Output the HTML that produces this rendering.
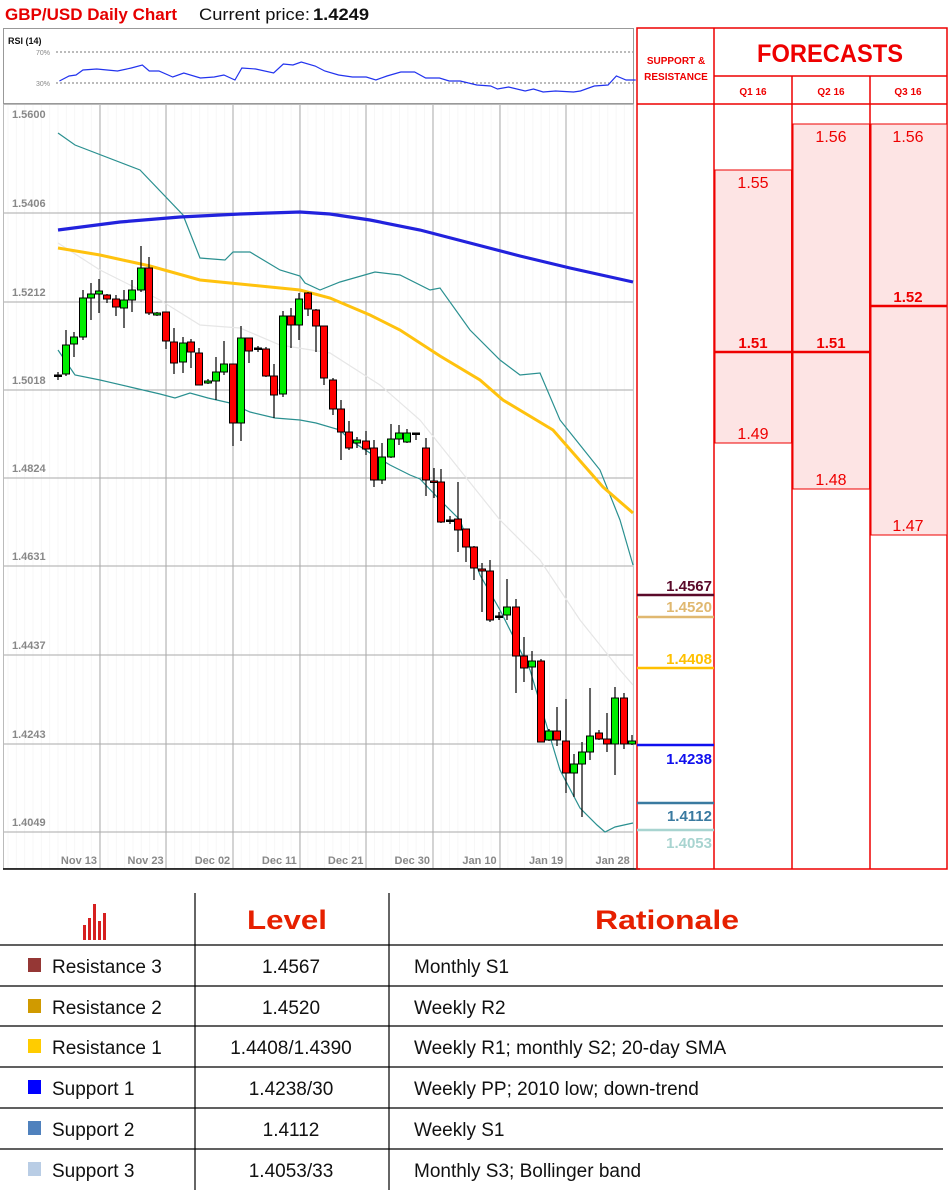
<!DOCTYPE html>
<html><head><meta charset="utf-8">
<style>
html,body{margin:0;padding:0;background:#fff;}
body{width:952px;height:1193px;position:relative;overflow:hidden;font-family:"Liberation Sans",sans-serif;}
svg{position:absolute;left:0;top:0;}
</style></head>
<body>
<svg id="s" width="952" height="1193" viewBox="0 0 952 1193" xmlns="http://www.w3.org/2000/svg" font-family="Liberation Sans, sans-serif">
<text x="5" y="20" font-size="17" font-weight="bold" fill="#e60000" textLength="172" lengthAdjust="spacingAndGlyphs">GBP/USD Daily Chart</text>
<text x="199" y="20" font-size="17" fill="#111" textLength="111" lengthAdjust="spacingAndGlyphs">Current price:</text>
<text x="313" y="20" font-size="17" font-weight="bold" fill="#111" textLength="56" lengthAdjust="spacingAndGlyphs">1.4249</text>
<rect x="3.5" y="28.5" width="630" height="75" fill="#fff" stroke="#999"/>
<text x="8" y="44" font-size="9" fill="#111" font-weight="bold">RSI (14)</text>
<text x="36" y="55" font-size="7" fill="#888">70%</text>
<text x="36" y="86" font-size="7" fill="#888">30%</text>
<line x1="56" y1="52" x2="633" y2="52" stroke="#777" stroke-dasharray="2,2"/>
<line x1="56" y1="83" x2="633" y2="83" stroke="#777" stroke-dasharray="2,2"/>
<g transform="scale(1.382,1)">
<polyline fill="none" stroke="#2233ee" stroke-width="1.2" vector-effect="non-scaling-stroke" points="43,81 50,76 55,75 60,70 70,69 85,71 95,68 103,65 108,71 115,71 125,77 133,73 145,78 155,77 162,75 170,80 175,68 185,69 198,73 205,64 212,65 218,62 228,66 235,71 245,75 255,77 265,77 272,80 280,76 290,72 300,72 308,78 318,78 325,81 333,81 345,85 355,86 360,89 368,87 380,91 386,89 393,92 402,91 415,92 420,91 430,86 440,85 446,76 453,80 460,80"/>
</g>
<rect x="3.5" y="104.5" width="630" height="764" fill="#fff" stroke="#bbb"/>
<g id="minor" stroke="#f7f7f7" stroke-width="1"></g>
<g stroke="#aaa" stroke-width="1" id="grid"></g>
<g font-size="11" font-weight="bold" fill="#888" id="ylab"></g>
<g font-size="11" font-weight="bold" fill="#888" text-anchor="end" id="xlab"></g>
<line x1="3" y1="869" x2="640" y2="869" stroke="#000" stroke-width="1.5"/>
<polyline fill="none" stroke="#e6e6e6" stroke-width="1.2" points="58,243 100,270 160,300 200,325 240,328 280,345 330,353 380,385 420,420 460,470 500,520 540,560 580,620 620,670 633,685"/>
<polyline fill="none" stroke="#2a9090" stroke-width="1.2" points="58,133 75,145 140,170 183,215 200,258 225,260 233,252 250,252 280,270 300,276 305,283 320,290 340,282 375,272 400,275 430,290 440,288 470,330 500,360 520,375 540,373 560,420 580,445 600,470 620,520 633,565"/>
<polyline fill="none" stroke="#2a9090" stroke-width="1.2" points="58,350 75,375 100,380 130,387 160,394 175,398 190,393 208,398 230,403 250,412 275,418 300,420 316,423 340,430 350,440 370,453 390,465 410,475 420,479 440,500 460,520 480,575 500,610 515,640 530,670 545,720 560,770 580,808 597,825 605,832 615,827 633,823"/>
<polyline fill="none" stroke="#ffc20e" stroke-width="3" points="58,248 100,255 150,266 200,280 240,284 300,290 330,298 370,315 400,330 440,356 480,380 503,400 553,430 603,487 633,513"/>
<polyline fill="none" stroke="#2222dd" stroke-width="3.2" points="58,230 120,222 180,217 240,214 300,212 330,214 370,220 420,230 470,243 520,256 570,268 633,282"/>
<g id="candles"></g>
<g stroke="#e00" stroke-width="1.5" fill="none">
<rect x="637" y="28" width="310" height="841"/>
<line x1="714" y1="28" x2="714" y2="869"/>
<line x1="792" y1="76" x2="792" y2="869"/>
<line x1="870" y1="76" x2="870" y2="869"/>
<line x1="714" y1="76" x2="947" y2="76"/>
<line x1="637" y1="104" x2="947" y2="104"/>
</g>
<rect x="715" y="170" width="76.5" height="273" fill="#fde4e4" stroke="#e00" stroke-width="1"/>
<rect x="793" y="124" width="76.5" height="365" fill="#fde4e4" stroke="#e00" stroke-width="1"/>
<rect x="871" y="124" width="76" height="411" fill="#fde4e4" stroke="#e00" stroke-width="1"/>
<line x1="714" y1="352" x2="870" y2="352" stroke="#e00" stroke-width="2.5"/>
<line x1="870" y1="306" x2="947" y2="306" stroke="#e00" stroke-width="2.5"/>
<g fill="#e00" font-weight="bold" text-anchor="middle">
<text x="676" y="64" font-size="10">SUPPORT &amp;</text>
<text x="676" y="80" font-size="10">RESISTANCE</text>
<text x="830" y="62" font-size="25" textLength="146" lengthAdjust="spacingAndGlyphs">FORECASTS</text>
<text x="753" y="95" font-size="10">Q1 16</text>
<text x="831" y="95" font-size="10">Q2 16</text>
<text x="908" y="95" font-size="10">Q3 16</text>
<text x="753" y="348" font-size="15">1.51</text>
<text x="831" y="348" font-size="15">1.51</text>
<text x="908" y="302" font-size="15">1.52</text>
</g>
<g fill="#e00" font-size="16" text-anchor="middle">
<text x="753" y="188">1.55</text>
<text x="831" y="142">1.56</text>
<text x="908" y="142">1.56</text>
<text x="753" y="439">1.49</text>
<text x="831" y="485">1.48</text>
<text x="908" y="531">1.47</text>
</g>
<g font-size="15" font-weight="bold" text-anchor="end">
<line x1="637" y1="595" x2="714" y2="595" stroke="#5a0a2a" stroke-width="2.5"/><text x="712" y="591" fill="#5a0a2a">1.4567</text>
<line x1="637" y1="617" x2="714" y2="617" stroke="#e0b870" stroke-width="2.5"/><text x="712" y="612" fill="#e0b870">1.4520</text>
<line x1="637" y1="668" x2="714" y2="668" stroke="#ffc000" stroke-width="2.5"/><text x="712" y="664" fill="#ffc000">1.4408</text>
<line x1="637" y1="745" x2="714" y2="745" stroke="#1010ee" stroke-width="2.5"/><text x="712" y="764" fill="#1010ee">1.4238</text>
<line x1="637" y1="803" x2="714" y2="803" stroke="#3a7aa0" stroke-width="2.5"/><text x="712" y="821" fill="#3a7aa0">1.4112</text>
<line x1="637" y1="830" x2="714" y2="830" stroke="#a8d4d0" stroke-width="2.5"/><text x="712" y="848" fill="#a8d4d0">1.4053</text>
</g>
<g stroke="#000" stroke-width="1.2">
<line x1="195" y1="893" x2="195" y2="1190"/>
<line x1="389" y1="893" x2="389" y2="1190"/>
<line x1="0" y1="945" x2="943" y2="945"/>
<line x1="0" y1="986" x2="943" y2="986"/>
<line x1="0" y1="1026" x2="943" y2="1026"/>
<line x1="0" y1="1067" x2="943" y2="1067"/>
<line x1="0" y1="1108" x2="943" y2="1108"/>
<line x1="0" y1="1149" x2="943" y2="1149"/>
</g>
<g fill="#d62020">
<rect x="83" y="925" width="3" height="15"/><rect x="88" y="918" width="3" height="22"/><rect x="93" y="904" width="3" height="36"/><rect x="98" y="921" width="3" height="19"/><rect x="103" y="913" width="3" height="27"/>
</g>
<g fill="#e62000" font-weight="bold" font-size="27" text-anchor="middle">
<text x="287" y="929" textLength="80" lengthAdjust="spacingAndGlyphs">Level</text>
<text x="667" y="929" textLength="144" lengthAdjust="spacingAndGlyphs">Rationale</text>
</g>
<g font-size="19" fill="#111">
<rect x="28" y="958" width="13" height="14" fill="#953735"/><text x="52" y="973">Resistance 3</text>
<rect x="28" y="999" width="13" height="14" fill="#d09a00"/><text x="52" y="1014">Resistance 2</text>
<rect x="28" y="1039" width="13" height="14" fill="#ffcc00"/><text x="52" y="1054">Resistance 1</text>
<rect x="28" y="1080" width="13" height="14" fill="#0000ff"/><text x="52" y="1095">Support 1</text>
<rect x="28" y="1121" width="13" height="14" fill="#4f81bd"/><text x="52" y="1136">Support 2</text>
<rect x="28" y="1162" width="13" height="14" fill="#b9cde5"/><text x="52" y="1177">Support 3</text>
<g text-anchor="middle">
<text x="291" y="973">1.4567</text>
<text x="291" y="1014">1.4520</text>
<text x="291" y="1054">1.4408/1.4390</text>
<text x="291" y="1095">1.4238/30</text>
<text x="291" y="1136">1.4112</text>
<text x="291" y="1177">1.4053/33</text>
</g>
<text x="414" y="973">Monthly S1</text>
<text x="414" y="1014">Weekly R2</text>
<text x="414" y="1054">Weekly R1; monthly S2; 20-day SMA</text>
<text x="414" y="1095">Weekly PP; 2010 low; down-trend</text>
<text x="414" y="1136">Weekly S1</text>
<text x="414" y="1177">Monthly S3; Bollinger band</text>
</g>
</svg>
<script>
var NS="http://www.w3.org/2000/svg";
function el(p,t,a,txt){var e=document.createElementNS(NS,t);for(var k in a)e.setAttribute(k,a[k]);if(txt)e.textContent=txt;document.getElementById(p).appendChild(e);}
for(var x=8;x<633;x+=8.33){el("minor","line",{x1:x,y1:105,x2:x,y2:868});}
var ys=[124,213,302,390,478,566,655,744,832],lb=["1.5600","1.5406","1.5212","1.5018","1.4824","1.4631","1.4437","1.4243","1.4049"];
for(var i=0;i<9;i++){if(i>0)el("grid","line",{x1:4,y1:ys[i],x2:633,y2:ys[i]});el("ylab","text",{x:12,y:ys[i]-6},lb[i]);}
var xs=[100,166,233,300,366,433,500,566],dl=["Nov 13","Nov 23","Dec 02","Dec 11","Dec 21","Dec 30","Jan 10","Jan 19","Jan 28"];
for(var i=0;i<8;i++)el("grid","line",{x1:xs[i],y1:105,x2:xs[i],y2:868});
for(var i=0;i<9;i++)el("xlab","text",{x:97+i*66.6,y:864},dl[i]);
var C=[[58,375,375,372,380,"d"],[66,345,374,330,376,"g"],[74,337,344,332,357,"g"],[83,298,337,290,340,"g"],[91,294,298,283,320,"g"],[99,291,294,279,313,"g"],[107,295,299,294,303,"r"],[116,299,307,295,316,"r"],[124,300,308,290,328,"g"],[132,290,300,280,312,"g"],[141,268,290,246,292,"g"],[149,268,313,257,315,"r"],[157,313,315,312,316,"g"],[166,312,341,312,349,"r"],[174,342,363,328,374,"r"],[183,343,362,337,373,"g"],[191,342,352,339,368,"r"],[199,353,385,348,385,"r"],[208,381,383,379,384,"g"],[216,372,381,357,400,"g"],[224,364,372,341,375,"g"],[233,364,423,364,446,"r"],[241,338,423,326,441,"g"],[249,338,351,338,363,"r"],[258,348,348,346,352,"d"],[266,349,376,347,377,"r"],[274,376,395,364,418,"r"],[283,316,394,311,397,"g"],[291,316,325,308,348,"r"],[299,299,325,293,340,"g"],[308,293,309,292,316,"r"],[316,310,326,309,352,"r"],[324,326,378,326,385,"r"],[333,380,409,378,415,"r"],[341,409,432,400,460,"r"],[349,432,448,421,450,"r"],[357,440,443,437,448,"g"],[366,441,449,431,455,"r"],[374,448,480,440,487,"r"],[382,457,480,443,484,"g"],[391,439,457,424,458,"g"],[399,433,439,425,445,"g"],[407,433,442,429,443,"g"],[416,433,433,433,440,"d"],[426,448,480,438,496,"r"],[434,481,482,468,498,"r"],[441,482,522,469,523,"r"],[450,520,520,516,524,"d"],[458,519,530,482,552,"r"],[466,529,547,529,562,"r"],[474,547,568,546,580,"r"],[482,569,571,563,612,"r"],[490,571,620,560,622,"r"],[499,616,616,612,620,"d"],[507,607,615,579,620,"g"],[516,607,656,599,693,"r"],[524,656,668,637,682,"r"],[532,661,667,651,690,"g"],[541,661,742,659,742,"r"],[549,731,740,729,741,"g"],[557,731,740,707,746,"r"],[566,741,773,699,793,"r"],[574,764,773,754,797,"g"],[582,752,764,742,817,"g"],[590,736,752,688,760,"g"],[599,733,739,730,740,"r"],[607,739,744,713,752,"r"],[615,698,744,687,775,"g"],[624,698,744,693,749,"r"],[632,741,744,735,745,"g"]];
C.forEach(function(c){el("candles","line",{x1:c[0],y1:c[3],x2:c[0],y2:c[4],stroke:"#000","stroke-width":1.2});
var h=Math.max(c[2]-c[1],1.5);var f=c[5]=="g"?"#00ee00":c[5]=="r"?"#ff0000":"#000";
el("candles","rect",{x:c[0]-3.5,y:c[1],width:7,height:h,fill:f,stroke:"#000","stroke-width":1});});
</script>
</body></html>
